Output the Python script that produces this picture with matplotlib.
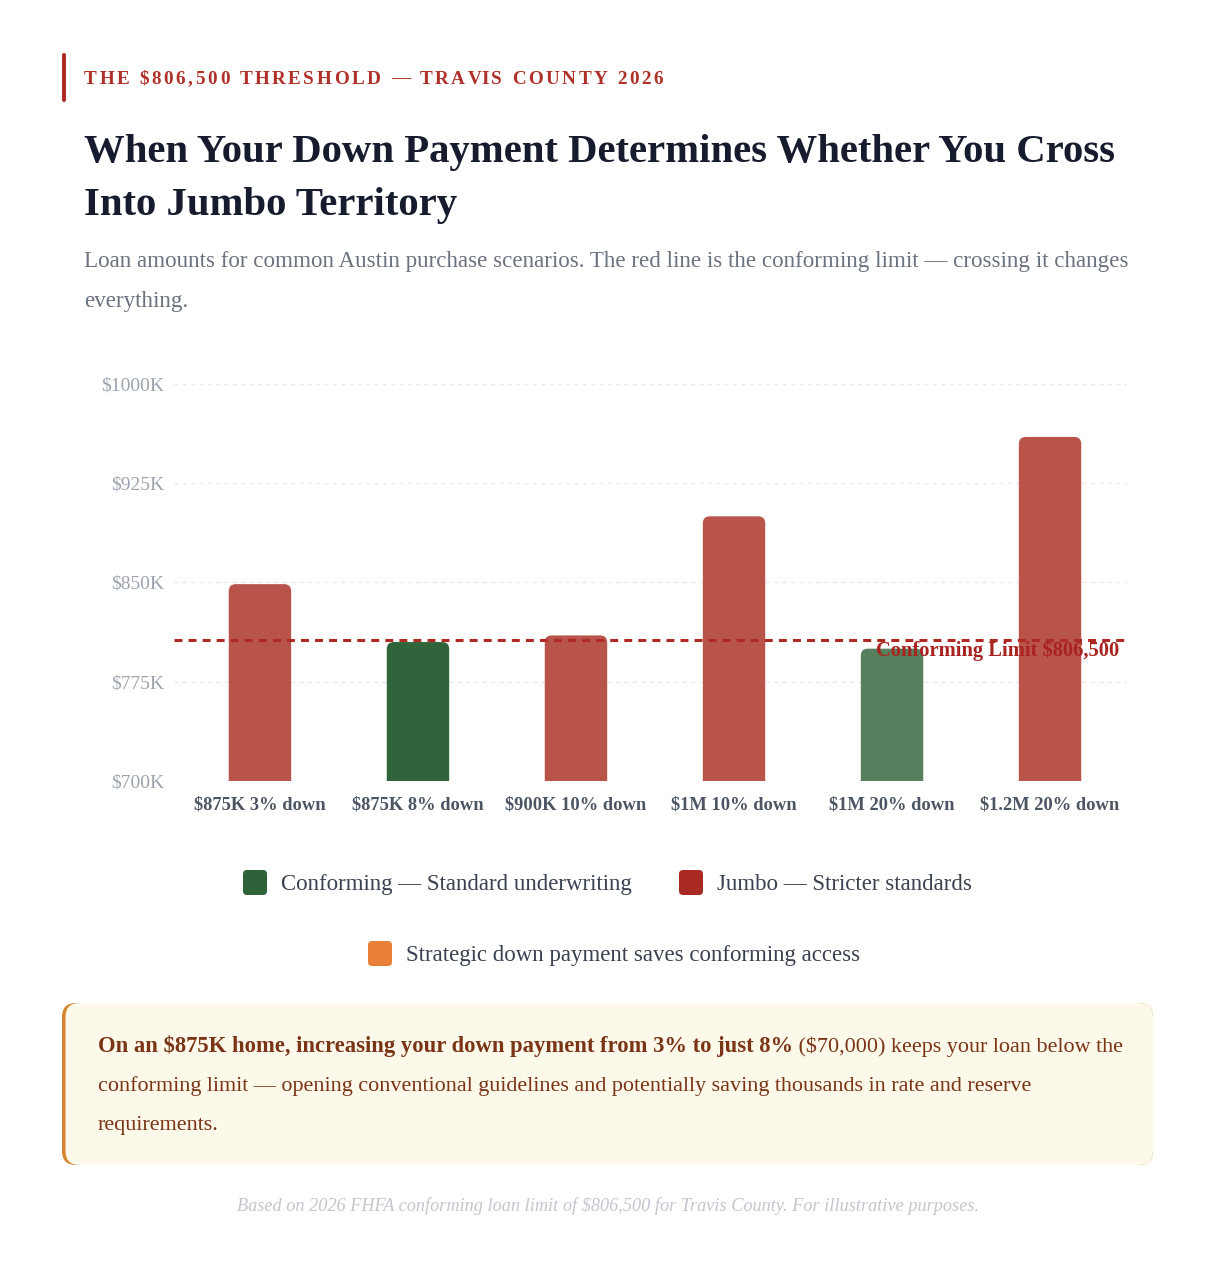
import matplotlib
matplotlib.use("Agg")
import matplotlib.pyplot as plt
from matplotlib.patches import FancyBboxPatch

# ---------------- data ----------------
categories = ["$875K 3% down", "$875K 8% down", "$900K 10% down",
              "$1M 10% down", "$1M 20% down", "$1.2M 20% down"]
loan_k = [848.75, 805, 810, 900, 800, 960]
bar_colors = ["#b9544b", "#30653b", "#b9544b", "#b9544b", "#567f5d", "#b9544b"]
limit_k = 806.5
limit_label = "Conforming Limit $806,500"
y_ticks = [700, 775, 850, 925, 1000]
y_tick_labels = ["$700K", "$775K", "$850K", "$925K", "$1000K"]
legend_labels = ["Conforming \u2014 Standard underwriting",
                 "Jumbo \u2014 Stricter standards",
                 "Strategic down payment saves conforming access"]
legend_colors = ["#2e6339", "#a82a23", "#e8803a"]

kicker = "THE $806,500 THRESHOLD \u2014 TRAVIS COUNTY 2026"
title_lines = ["When Your Down Payment Determines Whether You Cross",
               "Into Jumbo Territory"]
subtitle_lines = ["Loan amounts for common Austin purchase scenarios. The red line is the conforming limit \u2014 crossing it changes",
                  "everything."]
callout_bold = "On an $875K home, increasing your down payment from 3% to just 8%"
callout_rest = " ($70,000) keeps your loan below the"
callout_lines = ["conforming limit \u2014 opening conventional guidelines and potentially saving thousands in rate and reserve",
                 "requirements."]
footer = "Based on 2026 FHFA conforming loan limit of $806,500 for Travis County. For illustrative purposes."

# ---------------- setup ----------------
W, H = 1230, 1272
SERIF = "Liberation Serif"
plt.rcParams["font.family"] = [SERIF, "DejaVu Serif"]

fig = plt.figure(figsize=(W / 100, H / 100), dpi=100, facecolor="white")
deco = fig.add_axes([0, 0, 1, 1], zorder=0)
deco.set_xlim(0, W)
deco.set_ylim(H, 0)
deco.axis("off")
deco.patch.set_alpha(0)

fig.canvas.draw()
renderer = fig.canvas.get_renderer()


def width_of(t):
    return t.get_window_extent(renderer).width


def fit(t, target):
    for _ in range(2):
        w = width_of(t)
        t.set_fontsize(t.get_fontsize() * target / w)
    return t


# ---------------- header ----------------
deco.add_patch(FancyBboxPatch((62, 53), 4, 49, boxstyle="round,pad=0,rounding_size=2",
                              fc="#b02a25", ec="none"))

# tracked kicker
kcolor = "#b0302a"
ksize = 13.8
full = deco.text(0, -100, kicker, fontsize=ksize, fontweight="bold")
w0 = width_of(full)
full.remove()
extra = (579 - w0) / (len(kicker) - 1)
for i, ch in enumerate(kicker):
    if i == 0:
        pw = 0
    else:
        tt = deco.text(0, -100, kicker[:i], fontsize=ksize, fontweight="bold")
        pw = width_of(tt)
        tt.remove()
    deco.text(84 + pw + i * extra, 83.5, ch, fontsize=ksize, fontweight="bold",
              color=kcolor, va="baseline", ha="left")

t1 = deco.text(84, 162, title_lines[0], fontsize=27, fontweight="bold",
               color="#161b2e", va="baseline")
fit(t1, 1031)
deco.text(84, 215, title_lines[1], fontsize=t1.get_fontsize(), fontweight="bold",
          color="#161b2e", va="baseline")

s1 = deco.text(84, 267, subtitle_lines[0], fontsize=14.5, color="#6b7280", va="baseline")
fit(s1, 1043)
deco.text(84, 307, subtitle_lines[1], fontsize=s1.get_fontsize(), color="#6b7280", va="baseline")

# ---------------- chart ----------------
ax_left, ax_right = 174, 1127
ax_top, ax_bot = 384, 781
ax = fig.add_axes([ax_left / W, 1 - ax_bot / H, (ax_right - ax_left) / W, (ax_bot - ax_top) / H],
                  zorder=2)
ax.patch.set_alpha(0)
x = list(range(len(categories)))
bars = ax.bar(x, loan_k, width=0.395, color=bar_colors, zorder=2)
ax.set_xlim(-0.544, 5.487)
ax.set_ylim(700, 1000)

# rounded top corners: replace rectangles with rounded patches of same geometry
px_per_x = (ax_right - ax_left) / (5.487 + 0.544)
px_per_y = (ax_bot - ax_top) / 300.0
r_px = 7
r_x = r_px / px_per_x
aspect = (r_px / px_per_y) / r_x
for b in bars:
    bx, by = b.get_x(), b.get_y()
    bw, bh = b.get_width(), b.get_height()
    b.set_visible(False)
    ax.add_patch(FancyBboxPatch((bx, by), bw, bh,
                                boxstyle=f"round,pad=0,rounding_size={r_x}",
                                mutation_aspect=aspect, fc=b.get_facecolor(),
                                ec="none", zorder=2))

ax.set_yticks(y_ticks)
ax.set_yticklabels(y_tick_labels)
ax.set_xticks(x)
ax.set_xticklabels(categories)
ax.grid(axis="y", color="#e9eaec", linestyle=(0, (3, 3)), linewidth=1.0, zorder=0)
ax.set_axisbelow(True)
for sp in ax.spines.values():
    sp.set_visible(False)
ax.tick_params(axis="y", length=0, pad=7, labelsize=14, labelcolor="#9ca3af")
ax.tick_params(axis="x", length=0, pad=11, labelsize=13.3, labelcolor="#4b5563")
for lab in ax.get_xticklabels():
    lab.set_fontweight("bold")

ax.axhline(limit_k, color="#b02a25", linewidth=2.2, linestyle=(0, (2.6, 2.0)), zorder=3)
ax.text(5.44, limit_k - 0.5, limit_label, ha="right", va="top", fontsize=14.8,
        fontweight="bold", color="#a8231f", zorder=4)

# ---------------- legend ----------------
leg_items = [(243, 870, 0), (679, 870, 1), (368, 941, 2)]
for (lx, ly, i) in leg_items:
    deco.add_patch(FancyBboxPatch((lx, ly), 24, 25, boxstyle="round,pad=0,rounding_size=4",
                                  fc=legend_colors[i], ec="none"))
    deco.text(lx + 38, ly + 20, legend_labels[i], fontsize=16.5, color="#3a4150",
              va="baseline", ha="left")

# ---------------- callout ----------------
deco.add_patch(FancyBboxPatch((62, 1003), 1091, 162, boxstyle="round,pad=0,rounding_size=14",
                              fc="#d2842f", ec="none"))
deco.add_patch(FancyBboxPatch((65.5, 1003), 1087.5, 162, boxstyle="round,pad=0,rounding_size=14",
                              fc="#fdf9ea", ec="none"))
ccol = "#7a3416"
cb = deco.text(98, 1052, callout_bold, fontsize=14.5, fontweight="bold", color=ccol,
               va="baseline")
fit(cb, 692)
nsize = cb.get_fontsize() * 0.98
cr = deco.text(98 + width_of(cb), 1052, callout_rest, fontsize=nsize,
               color=ccol, va="baseline")
c2 = deco.text(98, 1091, callout_lines[0], fontsize=nsize, color=ccol,
               va="baseline")
deco.text(98, 1130, callout_lines[1], fontsize=nsize, color=ccol, va="baseline")

ft = deco.text(608, 1211, footer, fontsize=11.5, style="italic", color="#c3c6cf",
               ha="center", va="baseline")
fit(ft, 739)

fig.savefig("out.png", dpi=100, facecolor="white")
